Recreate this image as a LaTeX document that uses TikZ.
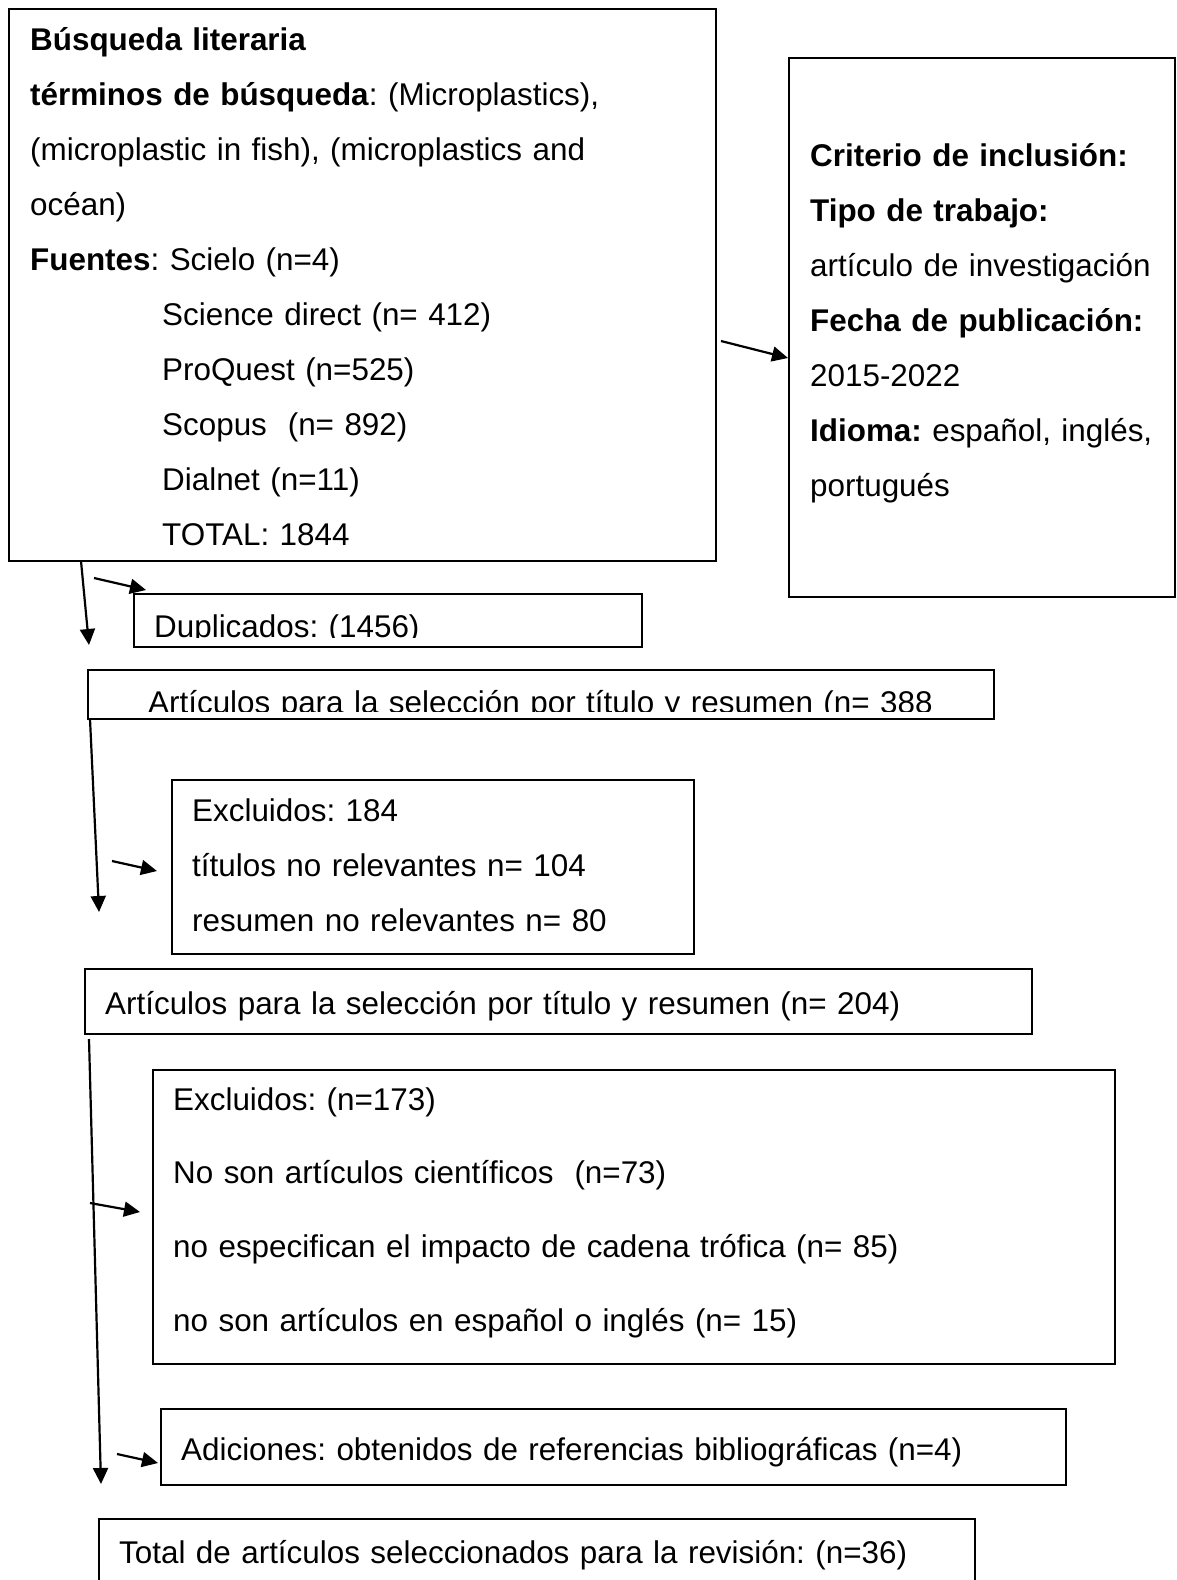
\documentclass[tikz,border=0pt]{standalone}
\usepackage{fontspec}
\setmainfont{Liberation Sans}
\frenchspacing
\usetikzlibrary{arrows.meta, positioning}

\begin{document}
\begin{tikzpicture}[x=1pt, y=-1pt, font=\fontsize{31.4}{55.1}\selectfont,
	box/.style={draw, line width=2.2pt, rectangle, inner sep=0pt, anchor=north west},
	txt/.style={inner sep=0pt, anchor=base west, align=left, text width=#1},
	arr/.style={-{Triangle[length=16pt, width=15pt]}, line width=2.2pt}]
		\useasboundingbox (0,0) rectangle (1176,1580);
		\clip (0,0) rectangle (1176,1580);

		\node[box, minimum width=707, minimum height=552] (busq) at (8,8) {};
		\node[box, minimum width=386, minimum height=539] (crit) at (788,57) {};
		\node[box, minimum width=508, minimum height=53] (dup) at (133,593) {};
		\node[box, minimum width=906, minimum height=49] (sel1) at (87,669) {};
		\node[box, minimum width=522, minimum height=174] (exc1) at (171,779) {};
		\node[box, minimum width=947, minimum height=65] (sel2) at (84,968) {};
		\node[box, minimum width=962, minimum height=294] (exc2) at (152,1069) {};
		\node[box, minimum width=905, minimum height=76] (adi) at (160,1408) {};
		\node[box, minimum width=876, minimum height=80] (total) at (98,1518) {};

		\node[txt=680] (busqtxt) at (30,50) {\textbf{Búsqueda literaria}\\
			\textbf{términos de búsqueda}: (Microplastics),\\
			(microplastic in fish), (microplastics and\\
			océan)\\
			\textbf{Fuentes}: Scielo (n=4)\\
			\hspace*{132pt}Science direct (n= 412)\\
			\hspace*{132pt}ProQuest (n=525)\\
			\hspace*{132pt}Scopus\ \ (n= 892)\\
			\hspace*{132pt}Dialnet (n=11)\\
			\hspace*{132pt}TOTAL: 1844};
		\node[txt=360] (crittxt) at (810,166) {\textbf{Criterio de inclusión:}\\
			\textbf{Tipo de trabajo:}\\
			artículo de investigación\\
			\textbf{Fecha de publicación:}\\
			2015-2022\\
			\textbf{Idioma:} español, inglés,\\
			portugués};
		\begin{scope}
			\clip (dup.north west) rectangle ([yshift=11pt]dup.south east);
			\node[txt=480] (duptxt) at (154,637) {Duplicados: (1456)};
		\end{scope}
		\begin{scope}
			\clip (sel1.north west) rectangle ([yshift=9pt]sel1.south east);
			\node[txt=840] (sel1txt) at (148,713) {Artículos para la selección por título y resumen (n= 388};
		\end{scope}
		\node[txt=490] (exc1txt) at (192,821) {Excluidos: 184\\
			títulos no relevantes n= 104\\
			resumen no relevantes n= 80};
		\node[txt=920] (sel2txt) at (105,1014) {Artículos para la selección por título y resumen (n= 204)};
		\node[txt=930, font=\fontsize{31.4}{73.9}\selectfont] (exc2txt) at (173,1110) {Excluidos: (n=173)\\
			No son artículos científicos\ \ (n=73)\\
			no especifican el impacto de cadena trófica (n= 85)\\
			no son artículos en español o inglés (n= 15)};
		\node[txt=880] (aditxt) at (181,1460) {Adiciones: obtenidos de referencias bibliográficas (n=4)};
		\node[txt=850] (totaltxt) at (119,1563) {Total de artículos seleccionados para la revisión: (n=36)};

		\coordinate (a1) at (721,341);
		\coordinate (a2) at (94,578);
		\coordinate (a3) at (112,861);
		\coordinate (a4) at (90,1203);
		\coordinate (a5) at (117,1454);
		\coordinate (d1) at (81,561);
		\coordinate (d2) at (90,719);
		\coordinate (d3) at (89,1039);
		\coordinate (e1) at (89,645);
		\coordinate (e2) at (99,912);
		\coordinate (e3) at (101,1484);
		\draw[arr] (a1) -- ([yshift=-1pt]crit.west |- 0,357);
		\draw[arr] (a2) -- (146,590);
		\draw[arr] (a3) -- (157,871);
		\draw[arr] (a4) -- (140,1212);
		\draw[arr] (a5) -- (158,1463);
		\draw[arr] (d1) -- (e1);
		\draw[arr] (d2) -- (e2);
		\draw[arr] (d3) -- (e3);
	\end{tikzpicture}
\end{document}
